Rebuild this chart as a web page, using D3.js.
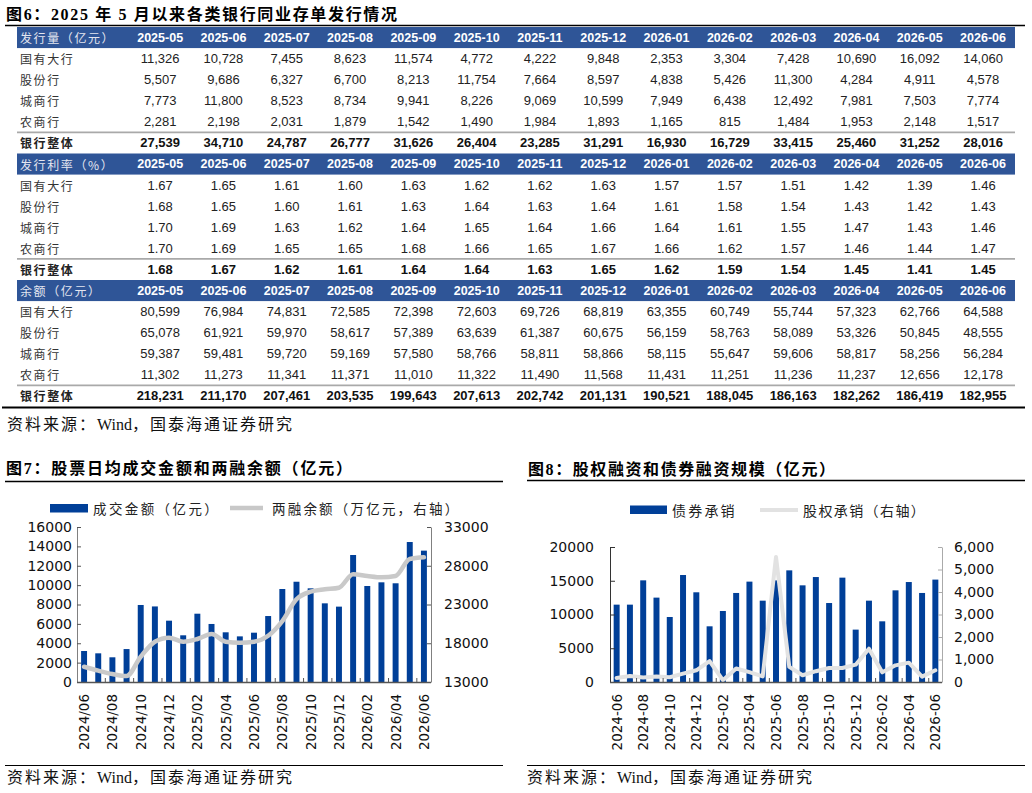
<!DOCTYPE html>
<html><head><meta charset="utf-8">
<script src="https://cdn.jsdelivr.net/npm/d3@7"></script>
<style>body{margin:0;background:#fff}svg{display:block}</style>
</head><body><svg id="c" width="1032" height="793"></svg>
<script>
// ---------- Table data (图6) ----------
const months6 = ['2025-05','2025-06','2025-07','2025-08','2025-09','2025-10','2025-11','2025-12','2026-01','2026-02','2026-03','2026-04','2026-05','2026-06'];
const rowLabels = ['国有大行','股份行','城商行','农商行'];
const totalLabel = '银行整体';
const headLabels = ['发行量（亿元）','发行利率（%）','余额（亿元）'];
const issueBig   = [11326,10728,7455,8623,11574,4772,4222,9848,2353,3304,7428,10690,16092,14060];
const issueJoint = [5507,9686,6327,6700,8213,11754,7664,8597,4838,5426,11300,4284,4911,4578];
const issueCity  = [7773,11800,8523,8734,9941,8226,9069,10599,7949,6438,12492,7981,7503,7774];
const issueRural = [2281,2198,2031,1879,1542,1490,1984,1893,1165,815,1484,1953,2148,1517];
const issueTotal = [27539,34710,24787,26777,31626,26404,23285,31291,16930,16729,33415,25460,31252,28016];
const rateBig   = [1.67,1.65,1.61,1.60,1.63,1.62,1.62,1.63,1.57,1.57,1.51,1.42,1.39,1.46];
const rateJoint = [1.68,1.65,1.60,1.61,1.63,1.64,1.63,1.64,1.61,1.58,1.54,1.43,1.42,1.43];
const rateCity  = [1.70,1.69,1.63,1.62,1.64,1.65,1.64,1.66,1.64,1.61,1.55,1.47,1.43,1.46];
const rateRural = [1.70,1.69,1.65,1.65,1.68,1.66,1.65,1.67,1.66,1.62,1.57,1.46,1.44,1.47];
const rateTotal = [1.68,1.67,1.62,1.61,1.64,1.64,1.63,1.65,1.62,1.59,1.54,1.45,1.41,1.45];
const balBig   = [80599,76984,74831,72585,72398,72603,69726,68819,63355,60749,55744,57323,62766,64588];
const balJoint = [65078,61921,59970,58617,57389,63639,61387,60675,56159,58763,58089,53326,50845,48555];
const balCity  = [59387,59481,59720,59169,57580,58766,58811,58866,58115,55647,59606,58817,58256,56284];
const balRural = [11302,11273,11341,11371,11010,11322,11490,11568,11431,11251,11236,11237,12656,12178];
const balTotal = [218231,211170,207461,203535,199643,207613,202742,201131,190521,188045,186163,182262,186419,182955];

// ---------- 图7 data ----------
const months7 = ['2024/06','2024/07','2024/08','2024/09','2024/10','2024/11','2024/12','2025/01','2025/02','2025/03','2025/04','2025/05','2025/06','2025/07','2025/08','2025/09','2025/10','2025/11','2025/12','2026/01','2026/02','2026/03','2026/04','2026/05','2026/06'];
const turnover = [3200,2960,2550,3400,7950,7800,6330,4820,7050,5990,5130,4710,5090,6810,9600,10350,9670,8120,7780,13110,9910,10290,10190,14450,13560];
const margin   = [14970,14460,14030,13770,16260,18200,18720,18200,18550,19190,18200,18070,18200,18970,20870,23670,24650,24960,25170,26900,26680,26510,26680,28870,29090];
const ticksL7 = [0,2000,4000,6000,8000,10000,12000,14000,16000];
const ticksR7 = [13000,18000,23000,28000,33000];

// ---------- 图8 data ----------
const months8 = ['2024-06','2024-07','2024-08','2024-09','2024-10','2024-11','2024-12','2025-01','2025-02','2025-03','2025-04','2025-05','2025-06','2025-07','2025-08','2025-09','2025-10','2025-11','2025-12','2026-01','2026-02','2026-03','2026-04','2026-05','2026-06'];
const bondUW   = [11460,11460,15060,12500,9630,15850,13290,8250,10520,13190,14870,12050,15060,16540,14320,15550,11700,15460,7760,12050,8990,13580,14810,13190,15170];
const equityUW = [180,270,200,240,210,370,520,930,80,600,440,250,5560,670,300,480,620,620,770,1480,430,740,860,240,520];
const ticksL8 = [0,5000,10000,15000,20000];
const ticksR8 = [0,1000,2000,3000,4000,5000,6000];

// ---------- styles ----------
const CJK = '"Noto Sans CJK SC", sans-serif';
const SERIF = '"Liberation Serif", "Noto Sans CJK SC", serif';
const ARIAL = '"Liberation Sans", Arial, sans-serif';
const VERD = '"DejaVu Sans", Verdana, sans-serif';
const BLUE_HEAD = '#2f5597';
const BAR = '#003f98';

const svg = d3.select('#c');
svg.append('rect').attr('width',1032).attr('height',793).attr('fill','#fff');

function heading(x,y,txt,len){
  svg.append('text').attr('x',x).attr('y',y).attr('dominant-baseline','central')
    .attr('font-family',SERIF).attr('font-weight','bold').attr('font-size',16).attr('fill','#000')
    .attr('textLength',len).attr('lengthAdjust','spacing').text(txt);
}
function source(x,y){
  const t = svg.append('text').attr('x',x).attr('y',y).attr('dominant-baseline','central')
    .attr('font-family',SERIF).attr('font-size',16).attr('fill','#111');
  t.append('tspan').attr('letter-spacing',2).text('资料来源：');
  t.append('tspan').attr('letter-spacing',0).text('Wind');
  t.append('tspan').attr('letter-spacing',2).text('，国泰海通证券研究');
}
function hline(x1,x2,y,w,c){
  svg.append('line').attr('x1',x1).attr('x2',x2).attr('y1',y).attr('y2',y).attr('stroke',c).attr('stroke-width',w);
}

// ================= TABLE =================
heading(6,14,'图6：2025 年 5 月以来各类银行同业存单发行情况',391);
hline(5,1025,25.5,1.5,'#000');

const blocks = [
  {rows:[issueBig,issueJoint,issueCity,issueRural], total:issueTotal, fmt:d3.format(',')},
  {rows:[rateBig,rateJoint,rateCity,rateRural], total:rateTotal, fmt:d3.format('.2f')},
  {rows:[balBig,balJoint,balCity,balRural], total:balTotal, fmt:d3.format(',')}
];
const colX = d3.scaleBand().domain(months6).range([128.5,1014.7]);
const rowY = d3.scaleBand().domain(d3.range(18)).range([27,406.5]);
const rh = rowY.bandwidth();

blocks.forEach((b,i)=>{
  const hy = rowY(i*6);
  const g = svg.append('g');
  g.append('rect').attr('x',17).attr('y',hy).attr('width',998).attr('height',rh).attr('fill',BLUE_HEAD);
  g.append('text').attr('x',20).attr('y',hy+rh/2).attr('dominant-baseline','central')
    .attr('font-family',CJK).attr('font-size',12).attr('letter-spacing',1.6).attr('fill','#e4e6f0').text(headLabels[i]);
  g.selectAll('.mh').data(months6).join('text')
    .attr('x',d=>colX(d)+colX.bandwidth()/2).attr('y',hy+rh/2).attr('dominant-baseline','central')
    .attr('text-anchor','middle').attr('font-family',ARIAL).attr('font-weight','bold').attr('font-size',12.5)
    .attr('fill','#fff').text(d=>d);
  b.rows.forEach((vals,j)=>{
    const ry = rowY(i*6+1+j)+rh/2;
    g.append('text').attr('x',20).attr('y',ry).attr('dominant-baseline','central')
      .attr('font-family',CJK).attr('font-size',12).attr('letter-spacing',1.6).attr('fill','#333').text(rowLabels[j]);
    g.selectAll('.v'+j).data(vals).join('text')
      .attr('x',(d,k)=>colX(months6[k])+colX.bandwidth()/2).attr('y',ry).attr('dominant-baseline','central')
      .attr('text-anchor','middle').attr('font-family',ARIAL).attr('font-size',13).attr('fill','#222')
      .text(d=>b.fmt(d));
  });
  const ty = rowY(i*6+5);
  hline(17,1015,ty,1.6,'#a9a9a9');
  g.append('text').attr('x',20).attr('y',ty+rh/2).attr('dominant-baseline','central')
    .attr('font-family',CJK).attr('font-weight','bold').attr('font-size',12).attr('letter-spacing',1.6).attr('fill','#222').text(totalLabel);
  g.selectAll('.t').data(b.total).join('text')
    .attr('x',(d,k)=>colX(months6[k])+colX.bandwidth()/2).attr('y',ty+rh/2).attr('dominant-baseline','central')
    .attr('text-anchor','middle').attr('font-family',ARIAL).attr('font-weight','bold').attr('font-size',13).attr('fill','#111')
    .text(d=>b.fmt(d));
});
hline(2,1025,407.5,2,'#000');
source(7,424);

// ================= CHART 7 =================
heading(6,468,'图7：股票日均成交金额和两融余额（亿元）',346);
hline(5,503,481.5,1.3,'#000');
{
  const L=77,R=431,T=527,B=682;
  const xb = d3.scaleBand().domain(months7).range([L,R]);
  const x = d3.scaleBand().domain(months7).range([L,R]).paddingInner(0.58).paddingOuter(0.29);
  const yL = d3.scaleLinear().domain([0,16000]).range([B,T]);
  const yR = d3.scaleLinear().domain([13000,33000]).range([B,T]);
  // legend
  svg.append('rect').attr('x',50).attr('y',504).attr('width',38).attr('height',8.5).attr('fill',BAR);
  svg.append('text').attr('x',93).attr('y',508).attr('dominant-baseline','central').attr('font-family',CJK)
    .attr('font-size',13.5).attr('letter-spacing',2.4).attr('fill','#222').text('成交金额（亿元）');
  hline(230,263,508,4.5,'#c8c8c8');
  svg.append('text').attr('x',272).attr('y',508).attr('dominant-baseline','central').attr('font-family',CJK)
    .attr('font-size',13.5).attr('letter-spacing',2.2).attr('fill','#222').text('两融余额（万亿元，右轴）');
  // bars
  svg.append('g').selectAll('rect').data(turnover).join('rect')
    .attr('x',(d,i)=>x(months7[i])).attr('width',x.bandwidth())
    .attr('y',d=>yL(d)).attr('height',d=>B-yL(d)).attr('fill',BAR);
  // line
  svg.append('path').datum(margin)
    .attr('d',d3.line().x((d,i)=>xb(months7[i])+xb.bandwidth()/2).y(d=>yR(d)).curve(d3.curveMonotoneX))
    .attr('fill','none').attr('stroke','#c9c9c9').attr('stroke-width',4.5).attr('stroke-linecap','round').attr('stroke-linejoin','round');
  // axes
  const axL = svg.append('g').attr('transform',`translate(${L},0)`)
    .call(d3.axisLeft(yL).tickValues(ticksL7).tickSize(-4).tickSizeOuter(0).tickPadding(5).tickFormat(d3.format('d')));
  const axR = svg.append('g').attr('transform',`translate(${R},0)`)
    .call(d3.axisRight(yR).tickValues(ticksR7).tickSize(-4).tickSizeOuter(0).tickPadding(13).tickFormat(d3.format('d')));
  [axL,axR].forEach(a=>{
    a.selectAll('text').attr('font-family',VERD).attr('font-size',14).attr('fill','#111');
    a.select('.domain').attr('stroke','#808080');
    a.selectAll('.tick line').attr('stroke','#555');
  });
  hline(L,R,B+0.5,1.3,'#555');
  const evenM = months7.filter((d,i)=>i%2===0);
  svg.append('g').selectAll('line').data(evenM.slice(1)).join('line')
    .attr('x1',d=>xb(d)).attr('x2',d=>xb(d)).attr('y1',B).attr('y2',B-4).attr('stroke','#555');
  svg.append('g').selectAll('text').data(evenM).join('text')
    .attr('transform',d=>`translate(${xb(d)+xb.bandwidth()/2},${694}) rotate(-90)`)
    .attr('text-anchor','end').attr('dominant-baseline','central')
    .attr('font-family',VERD).attr('font-size',13.5).attr('fill','#111').text(d=>d);
}
hline(5,503,765.5,1.2,'#000');
source(7,777);

// ================= CHART 8 =================
heading(528,469,'图8：股权融资和债券融资规模（亿元）',307);
hline(527,1025,480.5,1.3,'#000');
{
  const L=610,R=942,T=547,B=682;
  const xb = d3.scaleBand().domain(months8).range([L,R]);
  const x = d3.scaleBand().domain(months8).range([L,R]).paddingInner(0.55).paddingOuter(0.275);
  const yL = d3.scaleLinear().domain([0,20000]).range([B,T]);
  const yR = d3.scaleLinear().domain([0,6000]).range([B,T]);
  svg.append('rect').attr('x',630).attr('y',505.5).attr('width',37).attr('height',8.5).attr('fill',BAR);
  svg.append('text').attr('x',672).attr('y',510).attr('dominant-baseline','central').attr('font-family',CJK)
    .attr('font-size',14).attr('letter-spacing',2.2).attr('fill','#222').text('债券承销');
  hline(760,798,510,4,'#e2e2e2');
  svg.append('text').attr('x',803).attr('y',510).attr('dominant-baseline','central').attr('font-family',CJK)
    .attr('font-size',14).attr('letter-spacing',1.4).attr('fill','#222').text('股权承销（右轴）');
  svg.append('g').selectAll('rect').data(bondUW).join('rect')
    .attr('x',(d,i)=>x(months8[i])).attr('width',x.bandwidth())
    .attr('y',d=>yL(d)).attr('height',d=>B-yL(d)).attr('fill',BAR);
  svg.append('path').datum(equityUW)
    .attr('d',d3.line().x((d,i)=>xb(months8[i])+xb.bandwidth()/2).y(d=>yR(d)).curve(d3.curveLinear))
    .attr('fill','none').attr('stroke','#e2e2e2').attr('stroke-width',4).attr('stroke-linecap','round').attr('stroke-linejoin','round');
  const axL = svg.append('g').attr('transform',`translate(${L},0)`)
    .call(d3.axisLeft(yL).tickValues(ticksL8).tickSize(-5).tickSizeOuter(0).tickPadding(16).tickFormat(d3.format('d')));
  const axR = svg.append('g').attr('transform',`translate(${R},0)`)
    .call(d3.axisRight(yR).tickValues(ticksR8).tickSize(-4).tickSizeOuter(0).tickPadding(12).tickFormat(d3.format(',')));
  axL.selectAll('text').attr('font-family',VERD).attr('font-size',14).attr('fill','#111');
  axR.selectAll('text').attr('font-family',VERD).attr('font-size',14).attr('fill','#111');
  axL.select('.domain').attr('stroke','#333'); axL.selectAll('.tick line').attr('stroke','#333');
  axR.select('.domain').attr('stroke','#aaa'); axR.selectAll('.tick line').attr('stroke','#aaa');
  hline(L,R,B+0.5,1.3,'#555');
  const evenM = months8.filter((d,i)=>i%2===0);
  svg.append('g').selectAll('line').data(evenM.slice(1)).join('line')
    .attr('x1',d=>xb(d)).attr('x2',d=>xb(d)).attr('y1',B).attr('y2',B-4).attr('stroke','#555');
  svg.append('g').selectAll('text').data(evenM).join('text')
    .attr('transform',d=>`translate(${xb(d)+xb.bandwidth()/2},${694}) rotate(-90)`)
    .attr('text-anchor','end').attr('dominant-baseline','central')
    .attr('font-family',VERD).attr('font-size',13.5).attr('fill','#111').text(d=>d);
}
hline(527,1025,765.5,1.2,'#000');
source(527,777);
</script></body></html>
